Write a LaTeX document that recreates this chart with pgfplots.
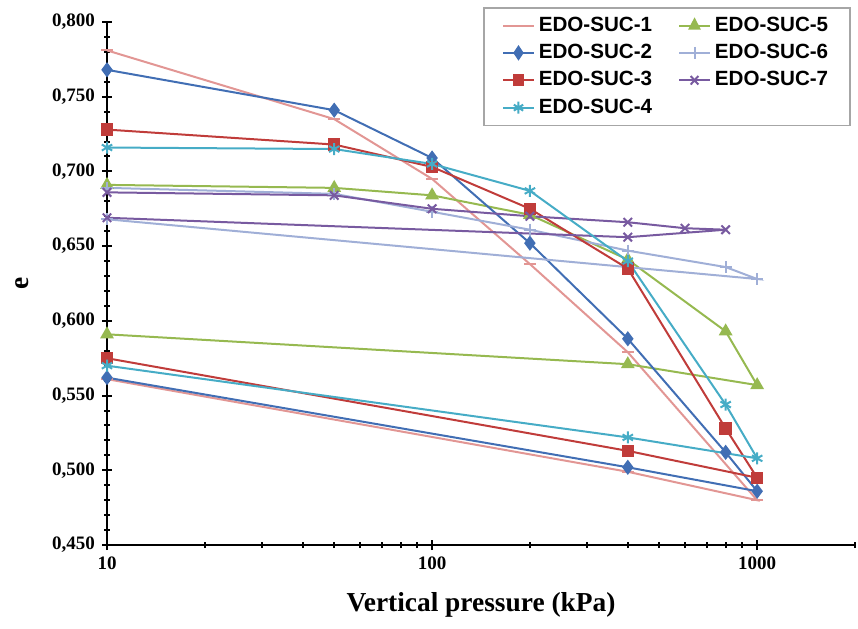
\documentclass[border=0pt]{standalone}
\usepackage{fontspec}
\setmainfont{Liberation Serif}
\newfontfamily\arialfont{Liberation Sans}
\usepackage{pgfplots}
\pgfplotsset{compat=1.18}
\usetikzlibrary{calc}

\definecolor{suc1}{RGB}{226,150,148}
\definecolor{suc2}{RGB}{65,110,180}
\definecolor{suc3}{RGB}{192,60,58}
\definecolor{suc4}{RGB}{70,172,198}
\definecolor{suc5}{RGB}{150,185,80}
\definecolor{suc6}{RGB}{160,175,215}
\definecolor{suc7}{RGB}{120,90,160}

\begin{document}
\begin{tikzpicture}
\begin{axis}[
    xmode=log,
    scale only axis,
    width=374pt, height=261.5pt,
    xmin=10, xmax=2000, ymin=0.45, ymax=0.80,
    axis x line=bottom, axis y line=left,
    axis line style={-, line width=1.2pt},
    xtick={10,100,1000}, xticklabels={10,100,1000},
    minor xtick={20,30,40,50,60,70,80,90,200,300,400,500,600,700,800,900,2000},
    ytick={0.45,0.50,0.55,0.60,0.65,0.70,0.75,0.80},
    minor y tick num=4,
    tick align=center,
    major tick length=5pt, minor tick length=3pt,
    every tick/.style={black, line width=1pt},
    yticklabel style={/pgf/number format/.cd, fixed, fixed zerofill, precision=3, use comma, assume math mode=true},
    ticklabel style={font=\bfseries\fontsize{9.5}{11}\selectfont},
    xticklabel style={/pgf/number format/assume math mode=true},
    xlabel={Vertical pressure (kPa)},
    ylabel={e},
    xlabel style={font=\bfseries\fontsize{13.7}{16}\selectfont, at={(axis description cs:0.5,-0.1147)}, anchor=center},
    ylabel style={font=\bfseries\fontsize{13.7}{16}\selectfont, at={(axis description cs:-0.1136,0.5)}, anchor=center},
    legend columns=2,
    legend cell align=left,
    legend style={at={(rel axis cs:1,1)}, anchor=north east, xshift=-2pt, yshift=7.5pt,
        draw=gray!70, line width=0.8pt, inner xsep=9pt, inner ysep=2.5pt, row sep=1pt,
        font=\arialfont\bfseries\fontsize{10.3}{12}\selectfont,
        /tikz/every even column/.append style={column sep=11pt}},
    legend image post style={xscale=0.9},
    every axis plot/.append style={line width=1pt},
]
% legend order row by row: 1 5 2 6 3 7 4
\addplot[suc1, mark=-, mark size=3pt] coordinates {
    (10,0.781)(50,0.735)(100,0.695)(200,0.638)(400,0.579)(1000,0.480)(400,0.499)(10,0.561)};
\addlegendentry{EDO-SUC-1}
\addplot[suc5, mark=triangle*, mark size=3pt] coordinates {
    (10,0.691)(50,0.689)(100,0.684)(200,0.671)(400,0.641)(800,0.593)(1000,0.557)(400,0.571)(10,0.591)};
\addlegendentry{EDO-SUC-5}
\addplot[suc2, mark=diamond*, mark size=3pt] coordinates {
    (10,0.768)(50,0.741)(100,0.709)(200,0.652)(400,0.588)(800,0.512)(1000,0.486)(400,0.502)(10,0.562)};
\addlegendentry{EDO-SUC-2}
\addplot[suc6, mark=+, mark size=3pt] coordinates {
    (10,0.689)(50,0.685)(100,0.673)(200,0.661)(400,0.647)(800,0.636)(1000,0.628)(10,0.668)};
\addlegendentry{EDO-SUC-6}
\addplot[suc3, mark=square*, mark size=2.6pt] coordinates {
    (10,0.728)(50,0.718)(100,0.703)(200,0.675)(400,0.635)(800,0.528)(1000,0.495)(400,0.513)(10,0.575)};
\addlegendentry{EDO-SUC-3}
\addplot[suc7, mark=x, mark size=3pt] coordinates {
    (10,0.686)(50,0.684)(100,0.675)(200,0.670)(400,0.666)(600,0.662)(800,0.661)(400,0.656)(10,0.669)};
\addlegendentry{EDO-SUC-7}
\addplot[suc4, mark=asterisk, mark size=3pt] coordinates {
    (10,0.716)(50,0.715)(100,0.705)(200,0.687)(400,0.640)(800,0.544)(1000,0.508)(400,0.522)(10,0.570)};
\addlegendentry{EDO-SUC-4}
\coordinate (o) at (rel axis cs:0,0);
\end{axis}
\path ($(o)+(-53.5pt,-41.5pt)$) rectangle ($(o)+(375.5pt,272.5pt)$);
\end{tikzpicture}
\end{document}
